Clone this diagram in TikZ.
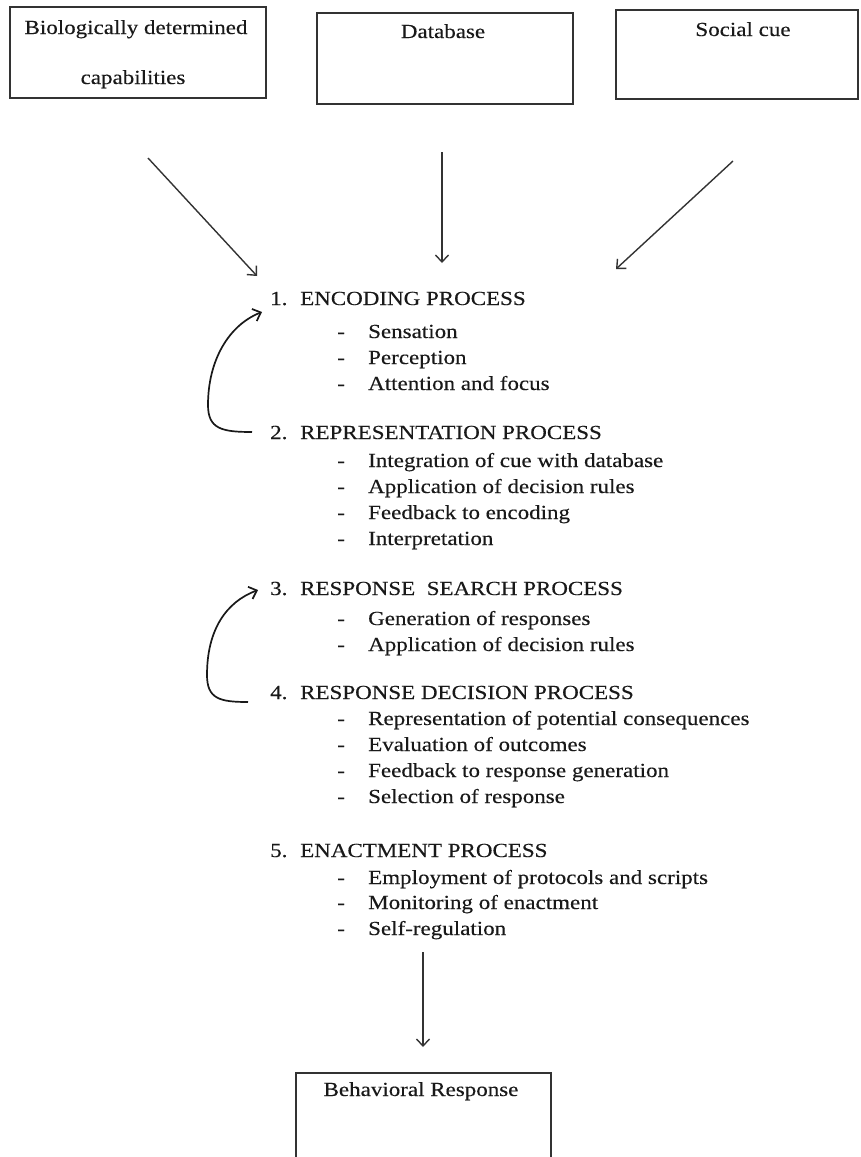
\documentclass[tikz,border=0pt]{standalone}
\usepackage{fontspec}
\setmainfont{Liberation Serif}[FakeStretch=1.15,FakeBold=0.3]
\usetikzlibrary{arrows.meta}
\tikzset{
  txt/.style={inner sep=0pt, font=\fontsize{20}{24}\selectfont, anchor=base west, text=black!90},
  ctxt/.style={inner sep=0pt, font=\fontsize{20}{24}\selectfont, anchor=base, text=black!90},
  boxline/.style={draw=black!80, line width=1.8pt},
  arr/.style={draw=black!80, line width=1.4pt, -{Straight Barb[length=7pt,width=13pt,line width=1.4pt]}},
  carr/.style={draw=black!90, line width=1.7pt, -{Straight Barb[length=7pt,width=13pt,line width=1.7pt]}}
}
\begin{document}
\begin{tikzpicture}[x=1pt,y=-1pt]
\clip (0,0) rectangle (860,1157);
\useasboundingbox (0,0) rectangle (860,1157);
% top boxes
\node[boxline, minimum width=256pt, minimum height=91pt, inner sep=0pt] (bio) at (138,52.5) {};
\node[boxline, minimum width=256pt, minimum height=91pt, inner sep=0pt] (db) at (445,58.5) {};
\node[boxline, minimum width=242pt, minimum height=89pt, inner sep=0pt] (soc) at (737,54.5) {};
\node[ctxt] (biot1) at (136,34) {Biologically determined};
\node[ctxt] (biot2) at (133,84) {capabilities};
\node[ctxt] (dbt) at (443,38) {Database};
\node[ctxt] (soct) at (743,36) {Social cue};
% input arrows
\coordinate (a1s) at (148,158); \coordinate (a1e) at (257,276);
\coordinate (a2s) at (442,152); \coordinate (a2e) at (442,263);
\coordinate (a3s) at (733,161); \coordinate (a3e) at (616,269);
\draw[arr] (a1s) -- (a1e);
\draw[arr] (a2s) -- (a2e);
\draw[arr] (a3s) -- (a3e);
% section 1
\node[txt] (n1) at (270,305) {1.};
\node[txt] (h1) at (300,305) {ENCODING PROCESS};
\node[txt] (d11) at (337,338) {-}; \node[txt] (i11) at (368,338) {Sensation};
\node[txt] (d12) at (337,364) {-}; \node[txt] (i12) at (368,364) {Perception};
\node[txt] (d13) at (337,390) {-}; \node[txt] (i13) at (368,390) {Attention and focus};
% section 2
\node[txt] (n2) at (270,439) {2.};
\node[txt] (h2) at (300,439) {REPRESENTATION PROCESS};
\node[txt] (d21) at (337,467) {-}; \node[txt] (i21) at (368,467) {Integration of cue with database};
\node[txt] (d22) at (337,493) {-}; \node[txt] (i22) at (368,493) {Application of decision rules};
\node[txt] (d23) at (337,519) {-}; \node[txt] (i23) at (368,519) {Feedback to encoding};
\node[txt] (d24) at (337,545) {-}; \node[txt] (i24) at (368,545) {Interpretation};
% section 3
\node[txt] (n3) at (270,595) {3.};
\node[txt] (h3) at (300,595) {RESPONSE \ SEARCH PROCESS};
\node[txt] (d31) at (337,625) {-}; \node[txt] (i31) at (368,625) {Generation of responses};
\node[txt] (d32) at (337,651) {-}; \node[txt] (i32) at (368,651) {Application of decision rules};
% section 4
\node[txt] (n4) at (270,699) {4.};
\node[txt] (h4) at (300,699) {RESPONSE DECISION PROCESS};
\node[txt] (d41) at (337,725) {-}; \node[txt] (i41) at (368,725) {Representation of potential consequences};
\node[txt] (d42) at (337,751) {-}; \node[txt] (i42) at (368,751) {Evaluation of outcomes};
\node[txt] (d43) at (337,777) {-}; \node[txt] (i43) at (368,777) {Feedback to response generation};
\node[txt] (d44) at (337,803) {-}; \node[txt] (i44) at (368,803) {Selection of response};
% section 5
\node[txt] (n5) at (270,857) {5.};
\node[txt] (h5) at (300,857) {ENACTMENT PROCESS};
\node[txt] (d51) at (337,884) {-}; \node[txt] (i51) at (368,884) {Employment of protocols and scripts};
\node[txt] (d52) at (337,909) {-}; \node[txt] (i52) at (368,909) {Monitoring of enactment};
\node[txt] (d53) at (337,935) {-}; \node[txt] (i53) at (368,935) {Self-regulation};
% feedback curves
\coordinate (c1s) at (252,432); \coordinate (c1e) at (262,312);
\draw[carr] (c1s) .. controls (222,432) and (208,429) .. (208,405) .. controls (208,360) and (229,325) .. (c1e);
\coordinate (c2s) at (248,702); \coordinate (c2e) at (258,590);
\draw[carr] (c2s) .. controls (220,702) and (207,699) .. (207,675) .. controls (207,630) and (226,602) .. (c2e);
% output
\coordinate (a4s) at (423,952); \coordinate (a4e) at (423,1047);
\draw[arr] (a4s) -- (a4e);
\node[boxline, minimum width=255pt, minimum height=120pt, inner sep=0pt, anchor=north west] (beh) at (295,1072) {};
\node[ctxt] (beht) at (421,1096) {Behavioral Response};
\end{tikzpicture}
\end{document}
